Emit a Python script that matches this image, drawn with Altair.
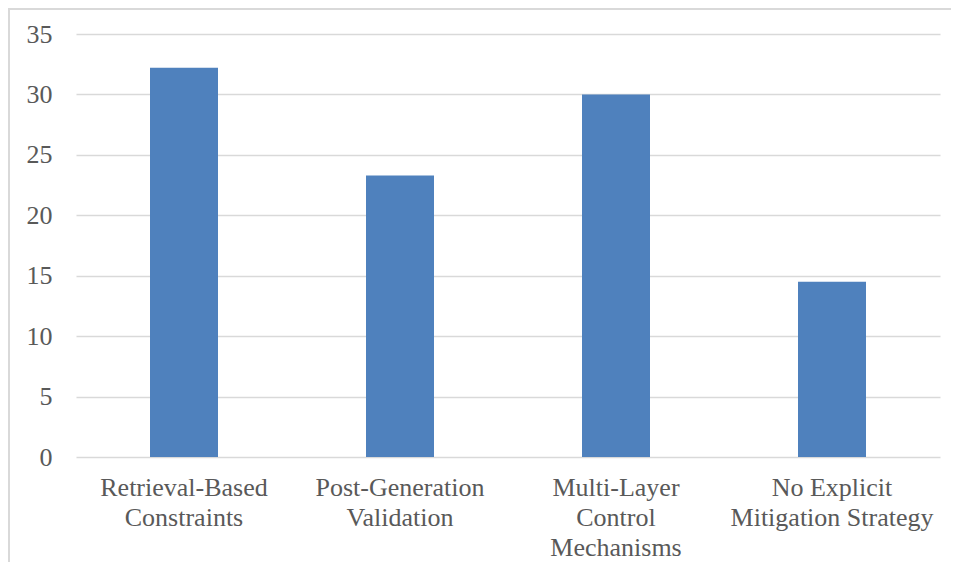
import altair as alt
import pandas as pd

categories = [
    "Retrieval-Based|Constraints",
    "Post-Generation|Validation",
    "Multi-Layer|Control|Mechanisms",
    "No Explicit|Mitigation Strategy",
]
values = [32.2, 23.3, 30.0, 14.5]
y_ticks = [0, 5, 10, 15, 20, 25, 30, 35]

df = pd.DataFrame({"category": categories, "value": values})

FONT = "Liberation Serif"
TEXT = "#595959"

bars = alt.Chart(df).mark_bar(size=68, color="#4F81BD").encode(
    x=alt.X(
        "category:N",
        sort=categories,
        title=None,
        scale=alt.Scale(paddingInner=0, paddingOuter=0),
        axis=alt.Axis(
            labelExpr="split(datum.value, '|')",
            labelAngle=0,
            labelLineHeight=30,
            labelPadding=17,
            labelLimit=0,
            ticks=False,
            domain=False,
            grid=False,
        ),
    ),
    y=alt.Y(
        "value:Q",
        title=None,
        scale=alt.Scale(domain=[0, 35], nice=False),
        axis=alt.Axis(
            values=y_ticks,
            labelPadding=24,
            ticks=False,
            domain=False,
            grid=True,
            gridColor="#D9D9D9",
            gridWidth=1.5,
        ),
    ),
)

frame_left = alt.Chart(df).mark_rule(color="#D9D9D9", strokeWidth=2).encode(
    x=alt.value(-67), y=alt.value(-26), y2=alt.value(560)
)
frame_top = alt.Chart(df).mark_rule(color="#D9D9D9", strokeWidth=2).encode(
    x=alt.value(-67), x2=alt.value(880), y=alt.value(-25)
)

chart = (
    alt.layer(frame_left, frame_top, bars)
    .properties(
        width=864,
        height=423,
        autosize=alt.AutoSizeParams(type="none"),
        padding={"left": 68, "top": 26, "right": 11, "bottom": 105},
        background="white",
    )
    .configure(font=FONT)
    .configure_view(stroke=None, strokeWidth=0)
    .configure_axis(labelFont=FONT, labelFontSize=26, labelColor=TEXT)
)

chart.save("out.html", embed_options={"renderer": "svg", "actions": False})
